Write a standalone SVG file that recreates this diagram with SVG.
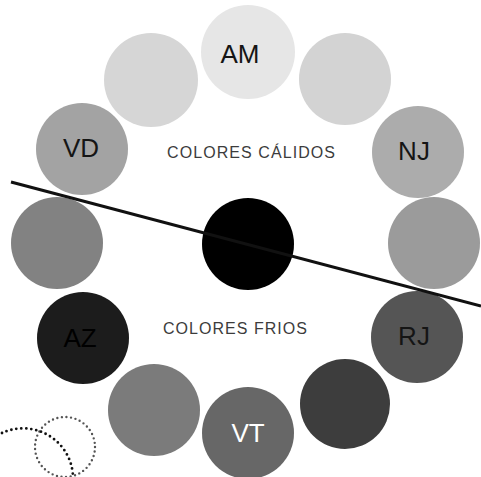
<svg xmlns="http://www.w3.org/2000/svg" width="481" height="477" viewBox="0 0 481 477">
  <style>
    .dot { stroke: none; }
    .lbl { font-family: "Liberation Sans", Arial, sans-serif; font-size: 26px; text-anchor: middle; fill: #151515; }
    .lbl.light { fill: #ffffff; }
    .cap { font-family: "Liberation Sans", Arial, sans-serif; font-size: 16px; fill: #3c3c3c; }
    .divider { stroke: #111; stroke-width: 3; fill: none; }
    .dotted { fill: none; stroke-linecap: round; }
  </style>
  <rect width="481" height="477" fill="#ffffff"/>

  <!-- colour wheel: twelve discs around the centre -->
  <g id="n-am"><circle class="dot" cx="248" cy="52" r="47" fill="#e6e6e6"/><text class="lbl" x="240" y="63">AM</text></g>
  <g id="n-top-right"><circle class="dot" cx="345" cy="79" r="46" fill="#d3d3d3"/></g>
  <g id="n-nj"><circle class="dot" cx="418" cy="152" r="46" fill="#acacac"/><text class="lbl" x="414" y="160">NJ</text></g>
  <g id="n-right"><circle class="dot" cx="434" cy="243" r="46" fill="#9b9b9b"/></g>
  <g id="n-rj"><circle class="dot" cx="417" cy="337" r="46" fill="#555555"/><text class="lbl" x="414" y="345">RJ</text></g>
  <g id="n-bottom-right"><circle class="dot" cx="345" cy="404" r="45" fill="#3d3d3d"/></g>
  <g id="n-vt"><circle class="dot" cx="248" cy="433" r="46" fill="#676767"/><text class="lbl light" x="248" y="442">VT</text></g>
  <g id="n-bottom-left"><circle class="dot" cx="154" cy="410" r="46" fill="#7b7b7b"/></g>
  <g id="n-az"><circle class="dot" cx="83" cy="338" r="46" fill="#1c1c1c"/><text class="lbl" x="80" y="347" style="fill:#000">AZ</text></g>
  <g id="n-left"><circle class="dot" cx="57" cy="243" r="46" fill="#828282"/></g>
  <g id="n-vd"><circle class="dot" cx="82" cy="149" r="46" fill="#a3a3a3"/><text class="lbl" x="81" y="157">VD</text></g>
  <g id="n-top-left"><circle class="dot" cx="151" cy="80" r="47" fill="#d6d6d6"/></g>

  <!-- centre disc -->
  <g id="n-centre"><circle class="dot" cx="248" cy="244" r="46" fill="#000000"/></g>

  <!-- section captions -->
  <g id="captions">
    <text class="cap" x="167" y="158" textLength="168" lengthAdjust="spacing">COLORES CÁLIDOS</text>
    <text class="cap" x="163" y="334" textLength="144" lengthAdjust="spacing">COLORES FRIOS</text>
  </g>

  <!-- dividing line between warm and cool halves -->
  <g id="connectors">
    <line class="divider" x1="11" y1="182" x2="481" y2="306"/>
  </g>

  <!-- dotted marks in the lower-left corner -->
  <g id="dotted-marks">
    <circle class="dotted" cx="65" cy="447" r="30" stroke="#555" stroke-width="2.4" stroke-dasharray="0 4.6"/>
    <path class="dotted" d="M 2 433 A 50 50 0 0 1 73 480" stroke="#111" stroke-width="2.8" stroke-dasharray="0 5"/>
  </g>
</svg>
